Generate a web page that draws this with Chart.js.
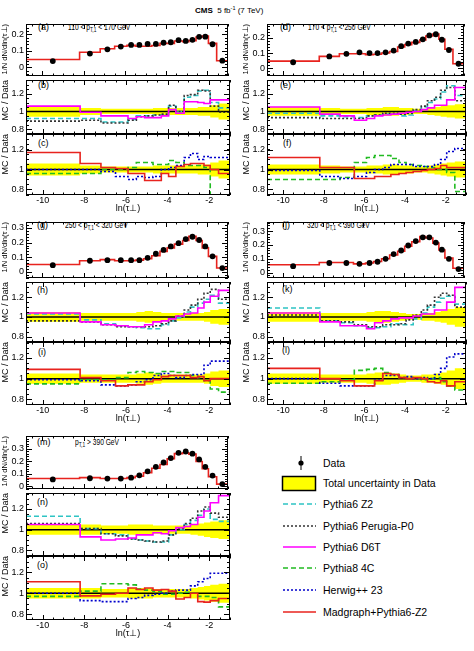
<!DOCTYPE html>
<html>
<head>
<meta charset="utf-8">
<title>tau_perp in pT bins</title>
<script src="https://cdn.jsdelivr.net/npm/chart.js@4.4.1/dist/chart.umd.min.js"></script>
<style>
  body { margin:0; width:474px; height:651px; position:relative; overflow:hidden; background:#fff;
         font-family:"Liberation Sans", Arial, sans-serif; color:#000; }
  .pane { position:absolute; }
  .pane canvas { display:block; }
  .tag { position:absolute; font-size:9px; line-height:10px; white-space:nowrap; }
  .rng { position:absolute; font-size:9px; line-height:10px; white-space:nowrap; transform:scaleX(0.74); transform-origin:left center; }
  .rng sub { font-size:6.5px; vertical-align:-2px; line-height:0; }
  .head { position:absolute; left:195px; top:6px; font-size:8px; line-height:10px; white-space:nowrap; }
  .head sup { font-size:5.5px; vertical-align:3px; line-height:0; }
  .leg { position:absolute; left:323px; font-size:10.5px; line-height:12px; white-space:nowrap; }
  svg { position:absolute; overflow:visible; }
</style>
</head>
<body>

<div class="head"><b>CMS</b>&nbsp; 5 fb<sup>-1</sup> (7 TeV)</div>

<div class="tag" style="left:38px;top:22px">(a)</div>
<div class="rng" style="left:68px;top:22px">110 &lt; p<sub>T,1</sub> &lt; 170 GeV</div>
<div class="tag" style="left:38px;top:80px">(b)</div>
<div class="tag" style="left:38px;top:138px">(c)</div>

<div class="tag" style="left:280px;top:22px">(d)</div>
<div class="rng" style="left:308px;top:22px">170 &lt; p<sub>T,1</sub> &lt; 250 GeV</div>
<div class="tag" style="left:280px;top:80px">(e)</div>
<div class="tag" style="left:283px;top:138px">(f)</div>

<div class="tag" style="left:37px;top:220px">(g)</div>
<div class="rng" style="left:65px;top:220px">250 &lt; p<sub>T,1</sub> &lt; 320 GeV</div>
<div class="tag" style="left:37px;top:285px">(h)</div>
<div class="tag" style="left:38px;top:347px">(i)</div>

<div class="tag" style="left:282px;top:220px">(j)</div>
<div class="rng" style="left:307px;top:220px">320 &lt; p<sub>T,1</sub> &lt; 390 GeV</div>
<div class="tag" style="left:282px;top:284px">(k)</div>
<div class="tag" style="left:282px;top:345px">(l)</div>

<div class="tag" style="left:37px;top:437px">(m)</div>
<div class="rng" style="left:75px;top:437px">p<sub>T,1</sub> &gt; 390 GeV</div>
<div class="tag" style="left:37px;top:497px">(n)</div>
<div class="tag" style="left:37px;top:560px">(o)</div>

<svg style="left:270px;top:440px" width="60" height="190">
  <line x1="31" y1="16" x2="31" y2="30" stroke="#000" stroke-width="1"/>
  <circle cx="31" cy="23" r="2.6" fill="#000"/>
  <rect x="12.5" y="36.5" width="33" height="14" fill="#ffff00" stroke="#000" stroke-width="1.5"/>
  <line x1="13" y1="64" x2="46" y2="64" stroke="#2ec4c4" stroke-width="1.5" stroke-dasharray="5 3"/>
  <line x1="13" y1="86" x2="46" y2="86" stroke="#333" stroke-width="1.5" stroke-dasharray="2 2"/>
  <line x1="13" y1="107" x2="46" y2="107" stroke="#ff00ff" stroke-width="1.5"/>
  <line x1="13" y1="128" x2="46" y2="128" stroke="#22bb22" stroke-width="1.5" stroke-dasharray="5 3"/>
  <line x1="13" y1="150" x2="46" y2="150" stroke="#0000cc" stroke-width="1.5" stroke-dasharray="2 2"/>
  <line x1="13" y1="172" x2="46" y2="172" stroke="#e8231e" stroke-width="1.5"/>
</svg>
<div class="leg" style="top:457px">Data</div>
<div class="leg" style="top:477px">Total uncertainty in Data</div>
<div class="leg" style="top:498px">Pythia6 Z2</div>
<div class="leg" style="top:520px">Pythia6 Perugia-P0</div>
<div class="leg" style="top:541px">Pythia6 D6T</div>
<div class="leg" style="top:562px">Pythia8 4C</div>
<div class="leg" style="top:584px">Herwig++ 23</div>
<div class="leg" style="top:606px">Madgraph+Pythia6-Z2</div>

<script>
// bin edges in ln(tau_perp), shared by all pT bins
const binEdges = [-10.8, -8.2, -7.2, -6.5, -5.9, -5.5, -5.1, -4.7, -4.3, -3.95, -3.6, -3.2, -2.9, -2.55, -2.25, -1.95, -1.55, -1.0];
const xTicks = [-10, -8, -6, -4, -2];
const topTicks3 = [0, 0.1, 0.2];
const topTicks4 = [0, 0.1, 0.2, 0.3];
const ratioTicks = [0.8, 1, 1.2];

// 110 < pT < 170
const data110  = [0.038, 0.083, 0.109, 0.126, 0.136, 0.136, 0.142, 0.142, 0.149, 0.152, 0.165, 0.160, 0.167, 0.185, 0.186, 0.140, 0.040];
const mgTop110 = [0.047, 0.091, 0.113, 0.128, 0.133, 0.128, 0.128, 0.132, 0.145, 0.145, 0.160, 0.155, 0.162, 0.184, 0.190, 0.145, 0.040];
const band110  = [0.06, 0.04, 0.03, 0.03, 0.03, 0.03, 0.03, 0.04, 0.04, 0.04, 0.04, 0.04, 0.04, 0.05, 0.05, 0.07, 0.09];
const z2_110   = [0.92, 0.92, 0.88, 0.88, 0.91, 0.95, 0.95, 0.96, 0.96, 1.06, 1.00, 1.16, 1.18, 1.23, 1.24, 1.10, 1.04];
const p0_110   = [0.89, 0.90, 0.87, 0.87, 0.90, 0.94, 0.95, 0.96, 0.97, 1.07, 1.00, 1.18, 1.19, 1.24, 1.23, 1.06, 0.99];
const d6t_110  = [1.06, 0.99, 0.95, 0.95, 0.92, 0.94, 0.93, 0.93, 0.95, 1.02, 0.98, 1.11, 1.11, 1.10, 1.09, 1.13, 1.13];
const c4_110   = [0.96, 0.96, 1.00, 1.00, 1.02, 1.07, 1.07, 1.05, 1.05, 1.09, 1.07, 1.04, 1.04, 1.04, 1.02, 0.70, 0.70];
const hw_110   = [1.00, 1.00, 0.98, 0.93, 0.90, 0.93, 0.92, 0.93, 1.00, 1.02, 1.04, 1.12, 1.16, 1.10, 1.13, 1.12, 1.12];
const mg110    = [1.17, 1.06, 1.02, 1.01, 0.96, 0.96, 0.89, 0.89, 0.96, 0.93, 1.03, 1.05, 1.06, 1.06, 1.04, 1.00, 0.96];

// 170 < pT < 250
const data170  = [0.040, 0.078, 0.095, 0.105, 0.100, 0.100, 0.105, 0.116, 0.145, 0.162, 0.173, 0.190, 0.215, 0.223, 0.187, 0.120, 0.030];
const mgTop170 = [0.047, 0.078, 0.095, 0.095, 0.090, 0.092, 0.100, 0.110, 0.140, 0.155, 0.170, 0.185, 0.212, 0.225, 0.190, 0.125, 0.030];
const band170  = [0.05, 0.04, 0.03, 0.03, 0.04, 0.04, 0.05, 0.05, 0.04, 0.04, 0.03, 0.03, 0.04, 0.05, 0.06, 0.07, 0.08];
const z2_170   = [0.98, 0.95, 0.94, 0.93, 0.95, 0.96, 0.97, 0.97, 0.95, 0.96, 1.01, 1.05, 1.10, 1.14, 1.22, 1.29, 1.18];
const p0_170   = [0.93, 0.92, 0.92, 0.92, 0.95, 0.96, 0.98, 0.98, 0.97, 0.98, 1.02, 1.06, 1.12, 1.16, 1.24, 1.27, 1.12];
const d6t_170  = [1.05, 0.97, 0.95, 0.90, 0.92, 0.95, 0.96, 0.97, 0.98, 0.99, 1.00, 1.02, 1.04, 1.07, 1.07, 1.13, 1.27];
const c4_170   = [0.90, 0.90, 0.92, 1.07, 1.12, 1.14, 1.14, 1.11, 1.07, 1.05, 1.04, 1.03, 1.02, 1.00, 1.00, 0.97, 0.78];
const hw_170   = [0.99, 0.93, 0.91, 0.93, 0.97, 1.00, 1.02, 1.05, 1.05, 1.05, 1.03, 1.03, 1.03, 1.05, 1.10, 1.18, 1.21];
const mg170    = [1.12, 1.02, 1.02, 0.91, 0.91, 0.93, 0.93, 0.95, 0.96, 0.97, 0.98, 0.99, 1.00, 1.01, 1.04, 1.02, 1.02];

// 250 < pT < 320
const data250  = [0.046, 0.076, 0.080, 0.080, 0.080, 0.080, 0.096, 0.124, 0.150, 0.174, 0.196, 0.224, 0.240, 0.218, 0.174, 0.106, 0.026];
const mgTop250 = [0.050, 0.076, 0.084, 0.076, 0.076, 0.080, 0.090, 0.110, 0.140, 0.164, 0.190, 0.214, 0.244, 0.214, 0.164, 0.106, 0.026];
const band250  = [0.05, 0.04, 0.04, 0.04, 0.04, 0.05, 0.06, 0.05, 0.04, 0.04, 0.04, 0.04, 0.04, 0.04, 0.05, 0.07, 0.08];
const z2_250   = [1.03, 0.97, 0.93, 0.91, 0.90, 0.89, 0.88, 0.88, 0.92, 0.96, 0.99, 1.05, 1.10, 1.14, 1.18, 1.22, 1.14];
const p0_250   = [0.96, 0.95, 0.92, 0.90, 0.90, 0.90, 0.90, 0.91, 0.93, 0.96, 1.01, 1.07, 1.12, 1.18, 1.24, 1.28, 1.18];
const d6t_250  = [1.04, 0.95, 0.92, 0.91, 0.90, 0.90, 0.92, 0.95, 0.96, 0.98, 1.01, 1.03, 1.04, 1.09, 1.15, 1.21, 1.27];
const c4_250   = [0.95, 0.99, 0.99, 1.01, 1.06, 1.07, 1.06, 1.05, 1.07, 1.07, 1.06, 1.06, 1.03, 1.01, 0.98, 0.90, 0.87];
const hw_250   = [0.99, 0.98, 0.94, 0.93, 0.94, 0.97, 0.99, 1.03, 1.05, 1.03, 1.01, 1.03, 1.04, 1.04, 1.13, 1.17, 1.17];
const mg250    = [1.09, 1.01, 0.98, 0.93, 0.94, 0.94, 0.97, 0.99, 1.02, 1.03, 1.03, 1.03, 1.01, 1.02, 0.98, 1.00, 1.00];

// 320 < pT < 390
const data320  = [0.047, 0.070, 0.070, 0.064, 0.070, 0.079, 0.100, 0.134, 0.160, 0.196, 0.228, 0.255, 0.255, 0.217, 0.166, 0.100, 0.026];
const mgTop320 = [0.057, 0.074, 0.074, 0.064, 0.070, 0.081, 0.100, 0.128, 0.155, 0.190, 0.223, 0.260, 0.250, 0.213, 0.164, 0.106, 0.032];
const band320  = [0.05, 0.04, 0.04, 0.04, 0.05, 0.06, 0.06, 0.05, 0.04, 0.03, 0.03, 0.04, 0.04, 0.05, 0.06, 0.08, 0.10];
const z2_320   = [1.09, 0.96, 0.94, 0.91, 0.89, 0.89, 0.90, 0.93, 0.92, 0.92, 0.98, 1.04, 1.10, 1.15, 1.19, 1.21, 1.13];
const p0_320   = [1.02, 0.96, 0.95, 0.92, 0.90, 0.90, 0.92, 0.92, 0.93, 0.97, 1.02, 1.07, 1.12, 1.20, 1.24, 1.22, 1.10];
const d6t_320  = [1.04, 0.95, 0.91, 0.91, 0.88, 0.94, 0.96, 0.98, 0.99, 0.99, 1.01, 1.03, 1.03, 1.07, 1.07, 1.15, 1.30];
const c4_320   = [0.955, 0.97, 0.99, 1.08, 1.09, 1.10, 1.06, 1.04, 1.01, 1.01, 1.00, 0.99, 1.00, 1.01, 0.97, 0.93, 0.89];
const hw_320   = [1.00, 0.955, 0.93, 0.93, 0.93, 0.985, 1.03, 1.03, 1.01, 1.02, 1.00, 1.01, 1.00, 1.04, 1.10, 1.21, 1.24];
const mg320    = [1.10, 1.00, 0.98, 0.93, 0.93, 0.98, 1.05, 1.04, 1.01, 1.00, 1.01, 1.00, 0.97, 0.96, 0.98, 0.93, 0.97];

// pT > 390
const data390  = [0.056, 0.065, 0.063, 0.063, 0.070, 0.088, 0.120, 0.156, 0.190, 0.225, 0.267, 0.277, 0.260, 0.214, 0.156, 0.086, 0.019];
const mgTop390 = [0.063, 0.070, 0.063, 0.063, 0.070, 0.081, 0.109, 0.144, 0.174, 0.220, 0.260, 0.267, 0.256, 0.198, 0.140, 0.077, 0.019];
const band390  = [0.05, 0.05, 0.04, 0.04, 0.05, 0.05, 0.05, 0.04, 0.04, 0.04, 0.04, 0.04, 0.05, 0.06, 0.07, 0.08, 0.09];
const z2_390   = [1.13, 1.01, 0.96, 0.95, 0.91, 0.90, 0.89, 0.88, 0.88, 0.95, 1.00, 1.05, 1.09, 1.14, 1.20, 1.10, 1.08];
const p0_390   = [1.06, 1.01, 0.96, 0.94, 0.91, 0.90, 0.89, 0.88, 0.89, 0.95, 1.01, 1.06, 1.11, 1.18, 1.22, 1.16, 1.12];
const d6t_390  = [1.05, 0.93, 0.90, 0.91, 0.92, 0.95, 0.95, 0.97, 0.96, 0.99, 1.02, 1.03, 1.05, 1.12, 1.18, 1.26, 1.33];
const c4_390   = [0.97, 1.02, 1.09, 1.09, 1.08, 1.04, 1.03, 1.02, 0.99, 0.99, 1.00, 1.01, 1.00, 0.97, 0.97, 0.96, 0.87];
const hw_390   = [1.00, 0.93, 0.92, 0.92, 0.95, 0.96, 0.98, 0.99, 1.00, 1.02, 1.03, 1.03, 1.07, 1.11, 1.14, 1.19, 1.19];
const mg390    = [1.11, 0.975, 0.99, 1.00, 1.05, 1.035, 1.05, 1.03, 1.035, 1.02, 0.945, 0.96, 1.00, 0.92, 0.915, 0.93, 0.95];

const groups = [
  { data: data110, mcTop: mgTop110, band: band110, r1: [z2_110, p0_110, d6t_110], r2: [c4_110, hw_110, mg110], yTop: [-0.053, 0.263], topTicks: topTicks3 },
  { data: data170, mcTop: mgTop170, band: band170, r1: [z2_170, p0_170, d6t_170], r2: [c4_170, hw_170, mg170], yTop: [-0.05, 0.29], topTicks: topTicks3 },
  { data: data250, mcTop: mgTop250, band: band250, r1: [z2_250, p0_250, d6t_250], r2: [c4_250, hw_250, mg250], yTop: [-0.042, 0.341], topTicks: topTicks4 },
  { data: data320, mcTop: mgTop320, band: band320, r1: [z2_320, p0_320, d6t_320], r2: [c4_320, hw_320, mg320], yTop: [-0.038, 0.365], topTicks: topTicks4 },
  { data: data390, mcTop: mgTop390, band: band390, r1: [z2_390, p0_390, d6t_390], r2: [c4_390, hw_390, mg390], yTop: [-0.02, 0.40], topTicks: topTicks4 },
];

// page geometry
const columns = [{ left: 0, width: 232 }, { left: 241, width: 227 }];
const rowsY = [[20, 80, 134, 195], [218, 282, 342, 405], [432, 493, 556, 620]];
const placement = [[0, 0], [1, 0], [0, 1], [1, 1], [0, 2]];
const ratioRange = [0.745, 1.355];
const xAxisBand = 20;

const styles = {
  z2:  { color: '#2ec4c4', dash: [5, 3] },
  p0:  { color: '#333333', dash: [2, 2] },
  d6t: { color: '#ff00ff', dash: [] },
  c4:  { color: '#22bb22', dash: [5, 3] },
  hw:  { color: '#0000cc', dash: [2, 2] },
  mg:  { color: '#e8231e', dash: [] },
};

Chart.defaults.font.family = '"Liberation Sans", Arial, sans-serif';
Chart.defaults.color = '#000';

const xMinor = [];
for (let n = -21; n <= -2; n++) xMinor.push(n / 2);

// ROOT-like frame with inward ticks on all four sides
const rootFrame = {
  id: 'rootFrame',
  afterDraw(chart, args, opts) {
    const { ctx, chartArea: a, scales: { x, y } } = chart;
    ctx.save();
    ctx.strokeStyle = '#000';
    ctx.lineWidth = 1;
    ctx.strokeRect(a.left + 0.5, a.top + 0.5, a.right - a.left - 1, a.bottom - a.top - 1);
    ctx.beginPath();
    const tickX = (v, len) => {
      const px = Math.round(x.getPixelForValue(v)) + 0.5;
      ctx.moveTo(px, a.bottom); ctx.lineTo(px, a.bottom - len);
      ctx.moveTo(px, a.top); ctx.lineTo(px, a.top + len);
    };
    const tickY = (v, len) => {
      const py = Math.round(y.getPixelForValue(v)) + 0.5;
      ctx.moveTo(a.left, py); ctx.lineTo(a.left + len, py);
      ctx.moveTo(a.right, py); ctx.lineTo(a.right - len, py);
    };
    xTicks.forEach(v => tickX(v, 5));
    xMinor.forEach(v => tickX(v, 2.5));
    opts.yTicks.forEach(v => tickY(v, 6));
    const lo = Math.ceil(y.min / opts.yMinor), hi = Math.floor(y.max / opts.yMinor);
    for (let n = lo; n <= hi; n++) tickY(n * opts.yMinor, 3);
    ctx.stroke();
    ctx.restore();
  }
};

// histogram outline: value i spans binEdges[i]..binEdges[i+1]
function hist(vals) {
  const pts = vals.map((v, i) => ({ x: binEdges[i], y: v }));
  pts.push({ x: binEdges[binEdges.length - 1], y: vals[vals.length - 1] });
  return pts;
}

function stepLine(vals, st, order) {
  return { data: hist(vals), borderColor: st.color, borderWidth: 1.6, borderDash: st.dash,
           stepped: 'before', pointRadius: 0, fill: false, order };
}

function ratioBase(band) {
  return [
    { data: hist(band.map(w => 1 + w)), borderWidth: 0, backgroundColor: '#ffff00', fill: '+1', stepped: 'before', pointRadius: 0, order: 10 },
    { data: hist(band.map(w => 1 - w)), borderWidth: 0, fill: false, stepped: 'before', pointRadius: 0, order: 10 },
    { data: [{ x: binEdges[0], y: 1 }, { x: binEdges[binEdges.length - 1], y: 1 }], borderColor: '#000', borderWidth: 1.5, pointRadius: 0, fill: false, order: 5 },
  ];
}

function makeConfig(datasets, o) {
  return {
    type: 'line',
    data: { datasets },
    options: {
      responsive: false, animation: false, events: [],
      layout: { padding: { left: 0, right: 2, top: 0, bottom: 0 } },
      plugins: { legend: { display: false }, tooltip: { enabled: false }, rootFrame: { yTicks: o.yTicks, yMinor: o.yMinor } },
      scales: {
        x: {
          type: 'linear', min: binEdges[0], max: binEdges[binEdges.length - 1], display: o.showX,
          grid: { display: false, drawTicks: false }, border: { display: false },
          afterBuildTicks: s => { s.ticks = xTicks.map(v => ({ value: v })); },
          ticks: { font: { size: 9 }, padding: 0, maxRotation: 0, autoSkip: false, callback: v => String(v) },
          title: { display: true, text: 'ln(τ⊥)', font: { size: 9 }, padding: { top: 0, bottom: 1 } },
          afterFit: s => { s.height = o.showX ? xAxisBand : 0; s.paddingLeft = 0; s.paddingRight = 0; }
        },
        y: {
          min: o.yMin, max: o.yMax,
          grid: { display: false, drawTicks: false }, border: { display: false },
          afterBuildTicks: s => { s.ticks = o.yTicks.map(v => ({ value: v })); },
          ticks: { font: { size: 9 }, padding: 2, autoSkip: false, callback: v => String(+v.toFixed(2)) },
          title: { display: true, text: o.yTitle, align: 'end', font: { size: o.titleSize }, padding: { top: 0, bottom: 0 } },
          afterFit: s => { s.width = 26; s.paddingTop = 0; s.paddingBottom = 0; }
        }
      }
    },
    plugins: [rootFrame]
  };
}

function addChart(left, top, width, height, config) {
  const div = document.createElement('div');
  div.className = 'pane';
  div.style.left = left + 'px';
  div.style.top = top + 'px';
  const cv = document.createElement('canvas');
  cv.width = width;
  cv.height = height;
  div.appendChild(cv);
  document.body.appendChild(div);
  return new Chart(cv, config);
}

groups.forEach((g, gi) => {
  const col = columns[placement[gi][0]];
  const rows = rowsY[placement[gi][1]];

  // distribution panel
  const topSets = [
    { data: g.data.map((v, i) => ({ x: (binEdges[i] + binEdges[i + 1]) / 2, y: v })), showLine: false,
      pointRadius: 2.9, pointBackgroundColor: '#000', pointBorderWidth: 0, order: 0 },
    stepLine(g.mcTop, styles.mg, 1),
  ];
  addChart(col.left, rows[0], col.width, rows[1] - rows[0], makeConfig(topSets, {
    showX: false, yMin: g.yTop[0], yMax: g.yTop[1], yTicks: g.topTicks, yMinor: 0.02,
    yTitle: '1/N dN/dln(τ⊥)', titleSize: 7.5
  }));

  // ratio panel 1: Pythia6 tunes
  const r1Sets = ratioBase(g.band).concat([
    stepLine(g.r1[0], styles.z2, 3),
    stepLine(g.r1[1], styles.p0, 2),
    stepLine(g.r1[2], styles.d6t, 1),
  ]);
  addChart(col.left, rows[1], col.width, rows[2] - rows[1], makeConfig(r1Sets, {
    showX: false, yMin: ratioRange[0], yMax: ratioRange[1], yTicks: ratioTicks, yMinor: 0.05,
    yTitle: 'MC / Data', titleSize: 9
  }));

  // ratio panel 2: Pythia8, Herwig++, Madgraph
  const r2Sets = ratioBase(g.band).concat([
    stepLine(g.r2[0], styles.c4, 3),
    stepLine(g.r2[1], styles.hw, 2),
    stepLine(g.r2[2], styles.mg, 1),
  ]);
  addChart(col.left, rows[2], col.width, rows[3] - rows[2] + xAxisBand, makeConfig(r2Sets, {
    showX: true, yMin: ratioRange[0], yMax: ratioRange[1], yTicks: ratioTicks, yMinor: 0.05,
    yTitle: 'MC / Data', titleSize: 9
  }));
});
</script>
</body>
</html>
